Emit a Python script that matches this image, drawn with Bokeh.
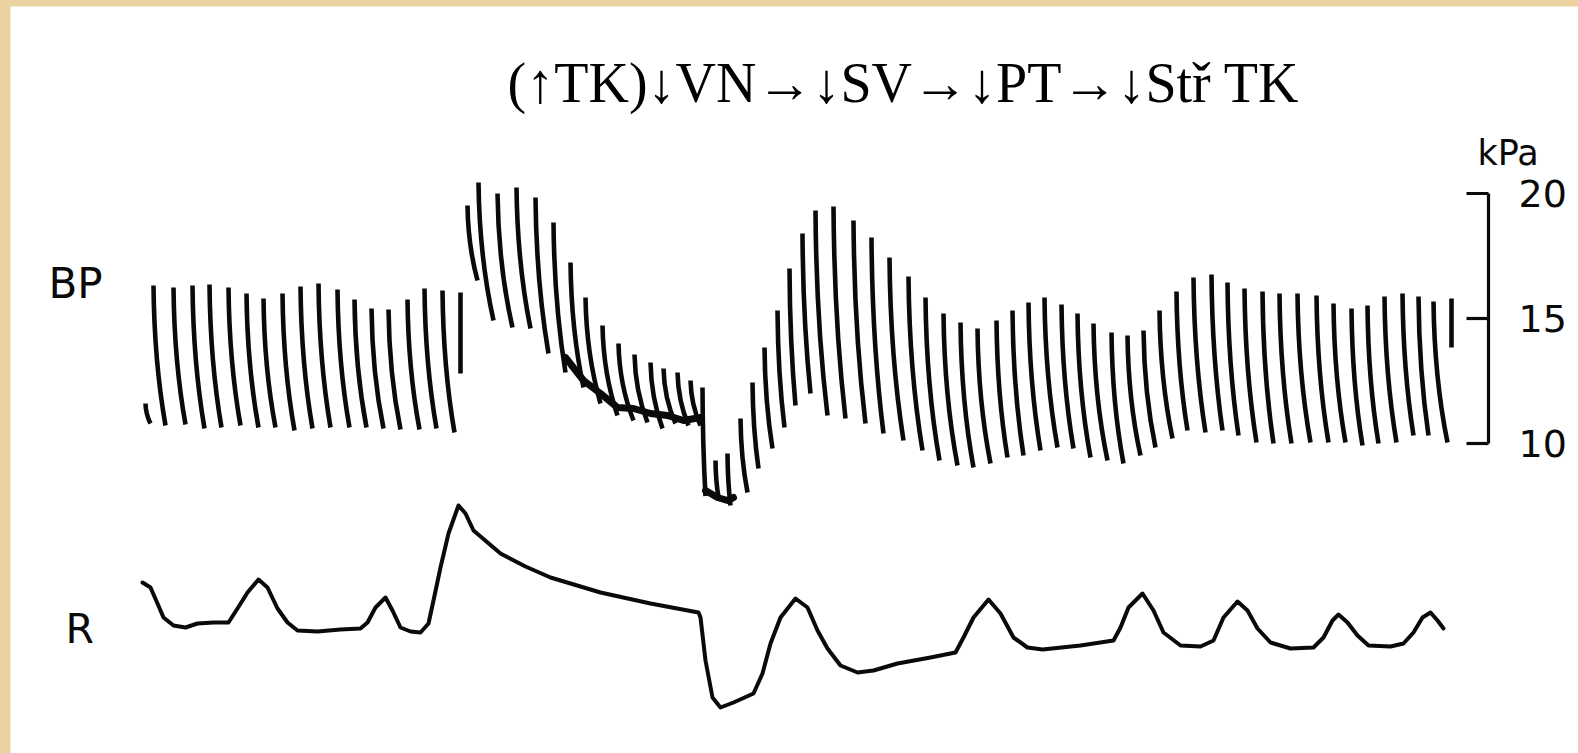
import numpy as np
from bokeh.plotting import figure
from bokeh.models import Range1d, Label
from bokeh.core.properties import value
from bokeh.layouts import column
from bokeh.embed import file_html
from bokeh.resources import INLINE

# ---------------------------------------------------------------------------
# Arterial blood pressure (kPa): one pen stroke per heart beat, running from
# the systolic peak down to the diastolic trough. Time is in seconds.
# ---------------------------------------------------------------------------
beat_t = [6.75, 7.15, 8.15, 9.1, 9.95, 10.9, 11.8, 12.65, 13.6, 14.5, 15.4, 16.35, 17.2, 18.05, 18.9,
          19.85, 20.7, 21.6, 22.5,
          22.85, 23.4, 24.35, 25.3, 26.25, 27.15, 28.0, 28.75, 29.6, 30.4, 31.2, 32.0, 32.65, 33.35,
          34.0, 34.6,
          35.25, 35.85, 36.5, 37.1, 37.7, 38.35, 38.95, 39.6, 40.25, 41.15, 42.15, 43.05, 43.95, 44.9,
          45.75, 46.65, 47.5, 48.35, 49.3, 50.1, 50.9, 51.7, 52.55, 53.35, 54.15, 55.05, 55.85, 56.65,
          57.45, 58.3, 59.15, 60.05, 60.85, 61.7, 62.6, 63.45, 64.35, 65.3, 66.15, 67.05, 67.85, 68.7,
          69.6, 70.4, 71.15, 72.05]
systolic = [11.6, 16.32, 16.24, 16.32, 16.36, 16.24, 16.0, 15.8, 16.0, 16.28, 16.4, 16.16, 15.76, 15.4,
            15.36, 15.76, 16.2, 16.12, 16.04,
            19.52, 20.44, 20.0, 20.24, 19.84, 18.84, 17.24, 15.84, 14.72, 14.0, 13.56, 13.24, 13.0,
            12.84, 12.52, 12.24,
            9.32, 9.6, 11.0, 12.44, 13.84, 15.32, 17.0, 18.4, 19.32, 19.48, 18.92, 18.24, 17.44, 16.68,
            15.84, 15.2, 14.84, 14.6, 14.92, 15.32, 15.64, 15.84, 15.56, 15.2, 14.8, 14.44, 14.32, 14.52,
            15.32, 16.08, 16.64, 16.76, 16.44, 16.2, 16.08, 16.0, 16.0, 15.92, 15.6, 15.4, 15.52, 15.88,
            16.0, 15.88, 15.68, 15.8]
dia_t = [7.0, 7.75, 8.75, 9.7, 10.55, 11.5, 12.4, 13.25, 14.2, 15.1, 16.0, 16.95, 17.8, 18.65, 19.5,
         20.45, 21.3, 22.2, 22.5,
         23.35, 24.15, 25.1, 26.0, 26.9, 27.75, 28.65, 29.5, 30.35, 31.15, 31.85, 32.6, 33.25, 33.9,
         34.5, 34.75,
         35.4, 36.0, 36.85, 37.4, 38.1, 38.7, 39.25, 40.0, 40.85, 41.75, 42.75, 43.65, 44.65, 45.6,
         46.45, 47.35, 48.15, 49.0, 49.85, 50.65, 51.5, 52.35, 53.15, 54.0, 54.85, 55.65, 56.5, 57.25,
         58.1, 58.85, 59.75, 60.6, 61.4, 62.3, 63.15, 64.05, 65.0, 65.9, 66.75, 67.6, 68.4, 69.3,
         70.15, 70.9, 71.85, 72.05]
diastolic = [10.8, 10.72, 10.76, 10.6, 10.64, 10.72, 10.64, 10.64, 10.52, 10.6, 10.64, 10.64, 10.64,
             10.6, 10.56, 10.56, 10.6, 10.44, 12.8,
             16.52, 14.92, 14.64, 14.6, 13.6, 12.84, 12.24, 11.6, 11.12, 10.92, 10.84, 10.6, 10.8,
             10.72, 10.72, 7.9,
             7.84, 7.52, 8.04, 9.0, 9.8, 10.64, 11.52, 12.0, 11.12, 11.0, 10.8, 10.4, 10.12, 9.72,
             9.32, 9.12, 9.04, 9.2, 9.44, 9.52, 9.72, 9.84, 9.8, 9.44, 9.32, 9.2, 9.52, 9.84, 10.2,
             10.52, 10.44, 10.52, 10.32, 10.04, 10.0, 10.0, 10.04, 10.04, 10.04, 9.92, 10.0, 10.04,
             10.32, 10.32, 10.04, 13.84]

# dense diastolic run-off where pulse pressure collapses (gap = pen lift)
runoff_t = [27.75, 28.65, 29.5, 30.35, 31.15, 32.0, 32.85, 33.65, 34.5, np.nan,
            34.75, 35.35, 35.85, 36.15]
runoff_p = [13.44, 12.52, 12.0, 11.44, 11.4, 11.2, 11.12, 10.92, 11.04, np.nan,
            8.12, 7.84, 7.72, 7.84]

# ---------------------------------------------------------------------------
# Respiration (relative units)
# ---------------------------------------------------------------------------
resp_t = [6.6, 7.0, 7.35, 7.65, 8.15, 8.75, 9.35, 10.15, 10.9, 11.35, 11.85, 12.4, 12.85, 13.35, 13.85,
          14.35, 15.35, 16.5, 17.5, 17.85, 18.25, 18.75, 19.1, 19.5, 20.0, 20.5, 20.9, 21.15, 21.5,
          21.9, 22.4, 22.75, 23.15, 24.5, 25.75, 27.0, 29.5, 32.0, 34.4, 34.5, 34.75, 35.1, 35.5, 36.15,
          37.15, 37.6, 38.0, 38.5, 39.25, 39.85, 40.35, 40.85, 41.5, 42.35, 43.15, 44.35, 46.0, 47.25,
          47.65, 48.15, 48.9, 49.5, 50.15, 50.85, 51.6, 53.5, 55.15, 55.5, 55.9, 56.6, 57.15, 57.65,
          58.5, 59.5, 60.15, 60.65, 61.35, 61.85, 62.35, 63.0, 64.0, 65.15, 65.65, 66.1, 66.4, 66.85,
          67.35, 67.9, 69.0, 69.65, 70.15, 70.6, 71.0, 71.35, 71.65]
resp_v = [4.3, 3.8, 2.2, 0.8, 0.0, -0.2, 0.2, 0.3, 0.3, 1.7, 3.3, 4.6, 3.8, 1.7, 0.3, -0.5, -0.6, -0.4,
          -0.3, 0.3, 1.8, 2.8, 1.5, -0.2, -0.6, -0.7, 0.2, 2.5, 5.8, 9.2, 12.0, 11.2, 9.5, 7.2, 5.9,
          4.8, 3.3, 2.2, 1.3, 0.8, -3.5, -7.2, -8.2, -7.7, -6.8, -4.8, -1.8, 0.8, 2.7, 1.8, -0.5, -2.3,
          -4.0, -4.7, -4.5, -3.8, -3.2, -2.7, -1.2, 0.8, 2.6, 1.2, -1.2, -2.2, -2.4, -2.0, -1.5, -0.2,
          1.8, 3.2, 1.5, -0.7, -2.0, -2.1, -1.5, 0.8, 2.4, 1.5, -0.3, -1.7, -2.3, -2.2, -1.2, 0.5,
          1.1, 0.3, -1.0, -2.0, -2.1, -1.8, -0.7, 0.8, 1.3, 0.5, -0.3]

bp_ticks = [10, 15, 20]
bp_unit = "kPa"
title_text = "(\u2191TK)\u2193VN\u2192\u2193SV\u2192\u2193PT\u2192\u2193St\u0159 TK"

INK = "#0a0a0a"
SANS = value("DejaVu Sans")

p = figure(width=1568, height=747,
           x_range=Range1d(0, 78.4), y_range=Range1d(-2.4, 27.48),
           x_axis_type=None, y_axis_type=None,
           output_backend="svg", toolbar_location=None,
           min_border_left=0, min_border_top=0, min_border_bottom=0, min_border_right=0,
           background_fill_color="white", border_fill_color="white",
           outline_line_color=None, margin=(6, 0, 0, 10))
p.extra_y_ranges = {"resp": Range1d(-12.8, 61.9)}

# each beat: a stroke falling from systole and drifting right as it reaches diastole
t0 = np.array(beat_t)
t1 = np.array(dia_t)
s = np.array(systolic)
d = np.array(diastolic)
h = s - d
dt = t1 - t0
p.bezier(x0=t0, y0=s, x1=t1, y1=d,
         cx0=t0 + 0.05 * dt, cy0=s - 0.45 * h,
         cx1=t0 + 0.55 * dt, cy1=d + 0.22 * h,
         line_color=INK, line_width=4.6)

p.line(runoff_t, runoff_p, line_color=INK, line_width=7, line_join="round", line_cap="round")

p.line(resp_t, resp_v, y_range_name="resp", line_color=INK, line_width=4,
       line_join="round", line_cap="round")

# pressure scale bar, drawn in kPa on the right of the traces
scale_t = 73.9
tick_len = 1.1
p.segment(x0=[scale_t], y0=[min(bp_ticks)], x1=[scale_t], y1=[max(bp_ticks)],
          line_color=INK, line_width=3.2)
p.segment(x0=[scale_t - tick_len] * len(bp_ticks), y0=bp_ticks,
          x1=[scale_t] * len(bp_ticks), y1=bp_ticks,
          line_color=INK, line_width=3.2)
p.text(x=[scale_t + 1.5] * len(bp_ticks), y=bp_ticks, text=[str(v) for v in bp_ticks],
       text_font=SANS, text_font_size="38px", text_color=INK,
       text_baseline="middle", text_align="left")
p.text(x=[73.35], y=[21.64], text=[bp_unit], text_font=SANS, text_font_size="35px",
       text_color=INK, text_baseline="alphabetic")

p.add_layout(Label(x=1.9, y=16.4, text="BP", text_font="DejaVu Sans",
                   text_font_size="42px", text_color=INK, text_baseline="alphabetic"))
p.add_layout(Label(x=2.75, y=-0.3, y_range_name="resp", text="R", text_font="DejaVu Sans",
                   text_font_size="41px", text_color=INK, text_baseline="alphabetic"))
p.add_layout(Label(x=44.65, y=24.44, text=title_text, text_font="Liberation Serif",
                   text_font_size="56px", text_color="black", text_align="center",
                   text_baseline="alphabetic"))

page = column(p, styles={"background-color": "#ebd29f"})
open("out.html", "w").write(file_html(page, INLINE, title="BP"))
